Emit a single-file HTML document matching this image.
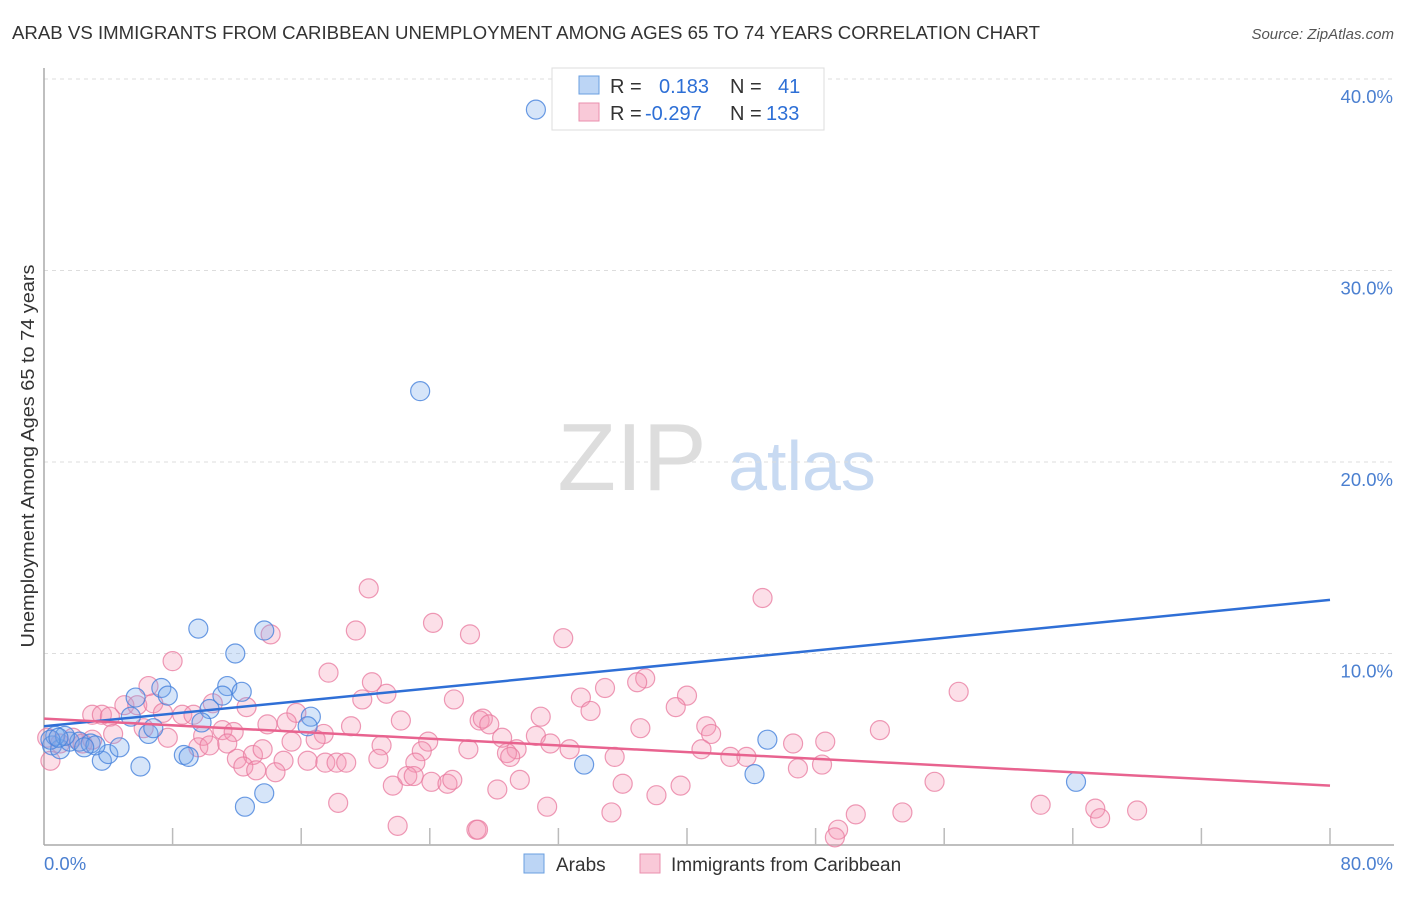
<!DOCTYPE html>
<html><head><meta charset="utf-8"><style>
body{margin:0;background:#fff;font-family:"Liberation Sans",sans-serif;}
svg text{font-family:"Liberation Sans",sans-serif;}
</style></head><body>
<svg id="chart" width="1406" height="892" viewBox="0 0 1406 892" xmlns="http://www.w3.org/2000/svg">
<text x="12" y="39" font-size="18" fill="#333" textLength="1028" lengthAdjust="spacingAndGlyphs">ARAB VS IMMIGRANTS FROM CARIBBEAN UNEMPLOYMENT AMONG AGES 65 TO 74 YEARS CORRELATION CHART</text>
<text x="1394" y="39" font-size="15" fill="#555" text-anchor="end" font-style="italic">Source: ZipAtlas.com</text>
<g>
<text x="632" y="490" font-size="96" fill="#ddd" text-anchor="middle" font-family="Liberation Serif, serif">ZIP</text>
<text x="802" y="490" font-size="70" fill="#c8daf2" text-anchor="middle">atlas</text>
</g>
<g id="grid"></g>
<line x1="44" y1="68" x2="44" y2="845" stroke="#aaa" stroke-width="1.5"/>
<line x1="44" y1="845" x2="1394" y2="845" stroke="#aaa" stroke-width="1.5"/>
<g id="ticks"></g>
<text transform="translate(34,456) rotate(-90)" font-size="18.5" fill="#333" text-anchor="middle" textLength="383" lengthAdjust="spacingAndGlyphs">Unemployment Among Ages 65 to 74 years</text>
<text x="44" y="870" font-size="18.5" fill="#4a7fd0">0.0%</text>
<text x="1393" y="870" font-size="18.5" fill="#4a7fd0" text-anchor="end">80.0%</text>
<g id="points"></g>
<g id="lines"></g>
<g>
<rect x="552" y="68" width="272" height="62" fill="#fff" stroke="#ddd"/>
<rect x="579" y="76" width="20" height="18" fill="#bcd5f5" stroke="#6a9fe0"/>
<rect x="579" y="103" width="20" height="18" fill="#f9c9d8" stroke="#ea8fae"/>
<text x="610" y="93" font-size="20" fill="#333">R =</text>
<text x="659" y="93" font-size="20" fill="#2d6fd6">0.183</text>
<text x="730" y="93" font-size="20" fill="#333">N =</text>
<text x="778" y="93" font-size="20" fill="#2d6fd6">41</text>
<text x="610" y="120" font-size="20" fill="#333">R =</text>
<text x="645" y="120" font-size="20" fill="#2d6fd6">-0.297</text>
<text x="730" y="120" font-size="20" fill="#333">N =</text>
<text x="766" y="120" font-size="20" fill="#2d6fd6">133</text>
</g>
<g>
<rect x="524" y="854" width="20" height="19" fill="#bcd5f5" stroke="#6a9fe0"/>
<text x="556" y="871" font-size="19" fill="#333">Arabs</text>
<rect x="640" y="854" width="20" height="19" fill="#f9c9d8" stroke="#ea8fae"/>
<text x="671" y="871" font-size="19" fill="#333">Immigrants from Caribbean</text>
</g>
</svg>
<script>
const yTicks=[10,20,30,40];
const yTickLabels=["10.0%","20.0%","30.0%","40.0%"];
const xTicks=[8,16,24,32,40,48,56,64,72,80];
const arabX=[30.6,23.4,9.6,13.7,11.9,7.3,5.7,7.7,11.4,12.3,11.1,10.3,9.8,6.5,6.8,16.6,16.4,8.7,9.0,3.6,4.0,4.7,6.0,12.5,13.7,33.6,45.0,44.2,64.2,0.5,1.0,1.6,2.2,2.9,3.2,5.4,0.7,1.3,2.5,0.4,0.9];
const arabY=[38.4,23.7,11.3,11.2,10.0,8.2,7.7,7.8,8.3,8.0,7.8,7.1,6.4,5.8,6.1,6.7,6.2,4.7,4.6,4.4,4.75,5.1,4.1,2.0,2.7,4.2,5.5,3.7,3.3,5.2,5.0,5.4,5.4,5.3,5.2,6.7,5.7,5.7,5.1,5.5,5.6];
const caribX=[20.2,19.4,24.2,26.5,14.1,8.0,17.7,20.4,21.3,19.8,25.5,6.5,5.0,5.8,6.8,10.5,12.6,22.2,27.1,3.0,3.6,4.1,8.6,9.3,7.4,15.7,13.9,15.1,19.1,17.4,16.9,4.3,6.2,7.7,9.9,11.1,11.8,15.4,21.0,23.9,23.5,26.4,9.6,10.3,11.4,12.0,13.0,13.6,14.9,16.4,17.5,18.2,18.8,20.8,23.1,12.4,13.2,14.4,21.7,22.6,23.0,24.1,25.1,25.4,18.3,22.0,26.9,0.4,1.0,1.8,2.4,3.0,0.2,32.3,44.7,37.4,36.9,34.9,33.4,34.0,40.0,39.3,56.9,27.3,27.7,30.9,37.1,41.2,41.5,28.5,30.6,31.5,32.7,29.4,28.8,29.0,40.9,42.7,43.7,46.6,48.6,52.0,35.5,46.9,48.4,29.6,28.2,36.0,39.6,38.1,55.4,31.3,35.3,27.0,50.5,49.4,49.2,53.4,62.0,65.4,65.7,68.0];
const caribY=[13.4,11.2,11.6,11.0,11.0,9.6,9.0,8.5,7.9,7.6,7.6,8.3,7.3,7.3,7.4,7.4,7.2,6.5,6.5,6.8,6.8,6.7,6.8,6.8,6.9,6.9,6.3,6.4,6.2,5.8,5.5,5.8,6.1,5.6,5.7,6.0,5.9,5.4,5.2,5.4,4.9,5.0,5.1,5.2,5.3,4.5,4.7,5.0,4.4,4.4,4.3,4.3,4.3,4.5,4.3,4.1,3.9,3.8,3.1,3.6,3.6,3.3,3.2,3.4,2.2,1.0,0.8,4.4,5.3,5.6,5.3,5.5,5.6,10.8,12.9,8.7,8.5,8.2,7.7,7.0,7.8,7.2,8.0,6.6,6.3,6.7,6.1,6.2,5.8,5.6,5.7,5.3,5.0,5.0,4.8,4.6,5.0,4.6,4.6,5.3,5.4,6.0,4.6,4.0,4.2,3.4,2.9,3.2,3.1,2.6,3.3,2.0,1.7,0.8,1.6,0.8,0.4,1.7,2.1,1.9,1.4,1.8];
const arabLine=[6.2,12.8];
const caribLine=[6.6,3.1];

const NS="http://www.w3.org/2000/svg";
const X0=44,X1=1330,Y0=845,PXY=19.15;
function sx(v){return X0+(X1-X0)*v/80;}
function sy(v){return Y0-v*PXY;}
function mk(tag,attrs,parent){const e=document.createElementNS(NS,tag);for(const k in attrs)e.setAttribute(k,attrs[k]);parent.appendChild(e);return e;}
const grid=document.getElementById('grid'),ticks=document.getElementById('ticks'),pts=document.getElementById('points'),lines=document.getElementById('lines');
yTicks.forEach((t,i)=>{
  const l=mk('line',{x1:44,x2:1394,y1:sy(t),y2:sy(t),stroke:'#ddd','stroke-dasharray':'4,4'},grid);
  
  
  const tx=mk('text',{x:1393,y:sy(t)+24,'font-size':18.5,fill:'#4a7fd0','text-anchor':'end'},ticks);
  tx.textContent=yTickLabels[i];
  
  
});
xTicks.forEach(t=>{
  const l=mk('line',{x1:sx(t),x2:sx(t),y1:828,y2:845,stroke:'#bbb','stroke-width':1.5},ticks);
  
  
});
function drawSeries(xs,ys,fill,stroke,name){
  xs.forEach((x,i)=>{
    const c=mk('circle',{cx:sx(x),cy:sy(ys[i]),r:9.5,fill:fill,stroke:stroke,'stroke-width':1.2},pts);
    
    
  });
}
drawSeries(caribX,caribY,'rgba(244,150,180,0.3)','rgba(232,120,158,0.75)','caribbean-point');
drawSeries(arabX,arabY,'rgba(120,170,235,0.3)','rgba(70,130,220,0.8)','arab-point');
const b=mk('line',{x1:sx(0),y1:sy(arabLine[0]),x2:sx(80),y2:sy(arabLine[1]),stroke:'#2f6fd6','stroke-width':2.5},lines);


const p=mk('line',{x1:sx(0),y1:sy(caribLine[0]),x2:sx(80),y2:sy(caribLine[1]),stroke:'#e8638f','stroke-width':2.5},lines);


</script>
</body></html>
